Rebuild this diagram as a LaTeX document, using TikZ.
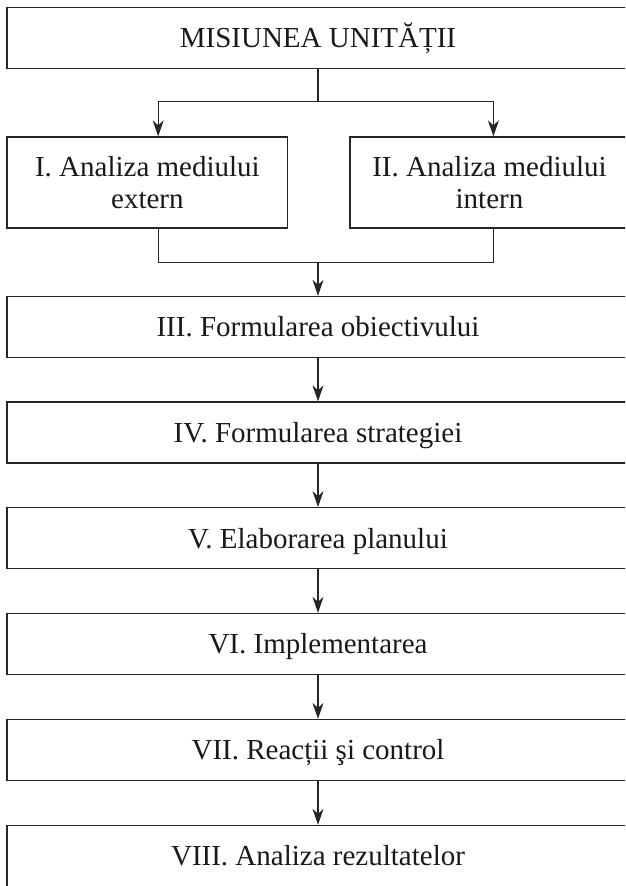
\documentclass[tikz,border=0pt]{standalone}
\usepackage{fontspec}
\setmainfont{Liberation Serif}
\usetikzlibrary{arrows.meta}
\begin{document}
\begin{tikzpicture}[x=1pt,y=1pt,
  frame/.style={draw=black!85, line width=1.3pt, rectangle, inner sep=0pt,
    text=black!90, font=\fontsize{29}{31.5}\selectfont},
  box/.style={frame, minimum width=622pt, minimum height=61pt,
    text height=19.5pt, text depth=0pt},
  halfbox/.style={frame, minimum height=91pt, align=center,
    text height=51pt, text depth=0pt},
  link/.style={draw=black!85, line width=1.3pt},
  arr/.style={link, -{Stealth[length=16pt,width=11pt,inset=5pt]}}]
\useasboundingbox (0,0) rectangle (625,-886);
\clip (0,0) rectangle (625,-886);

% mission and the two analyses
\node[box] (mis) at (318,-38) {MISIUNEA UNITĂȚII};
\node[halfbox, minimum width=280.8pt] (ext) at (147.4,-182.5) {I. Analiza mediului\\extern};
\node[halfbox, minimum width=279pt] (int) at (489.5,-182.5) {II. Analiza mediului\\intern};

% sequential stages
\node[box] (s3) at (318,-327) {III. Formularea obiectivului};
\node[box] (s4) at (318,-432.5) {IV. Formularea strategiei};
\node[box] (s5) at (318,-538.3) {V. Elaborarea planului};
\node[box] (s6) at (318,-644) {VI. Implementarea};
\node[box] (s7) at (318,-750) {VII. Reacții şi control};
\node[box] (s8) at (318,-856) {VIII. Analiza rezultatelor};

% fork from the mission to both analyses
\draw[link] (mis.south) -- ++(0,-32.4) coordinate (fork);
\draw[arr] (fork) -| ([xshift=10.8pt]ext.north);
\draw[arr] (fork) -| ([xshift=3.9pt]int.north);

% join of the analyses into the objective
\draw[link] ([xshift=10.8pt]ext.south) -- ++(0,-33.5) coordinate (join)
  -| ([xshift=3.9pt]int.south);
\draw[arr] (join -| mis.south) -- (s3.north);

% chain of stages
\draw[arr] (s3) -- (s4);
\draw[arr] (s4) -- (s5);
\draw[arr] (s5) -- (s6);
\draw[arr] (s6) -- (s7);
\draw[arr] (s7) -- (s8);
\end{tikzpicture}
\end{document}
